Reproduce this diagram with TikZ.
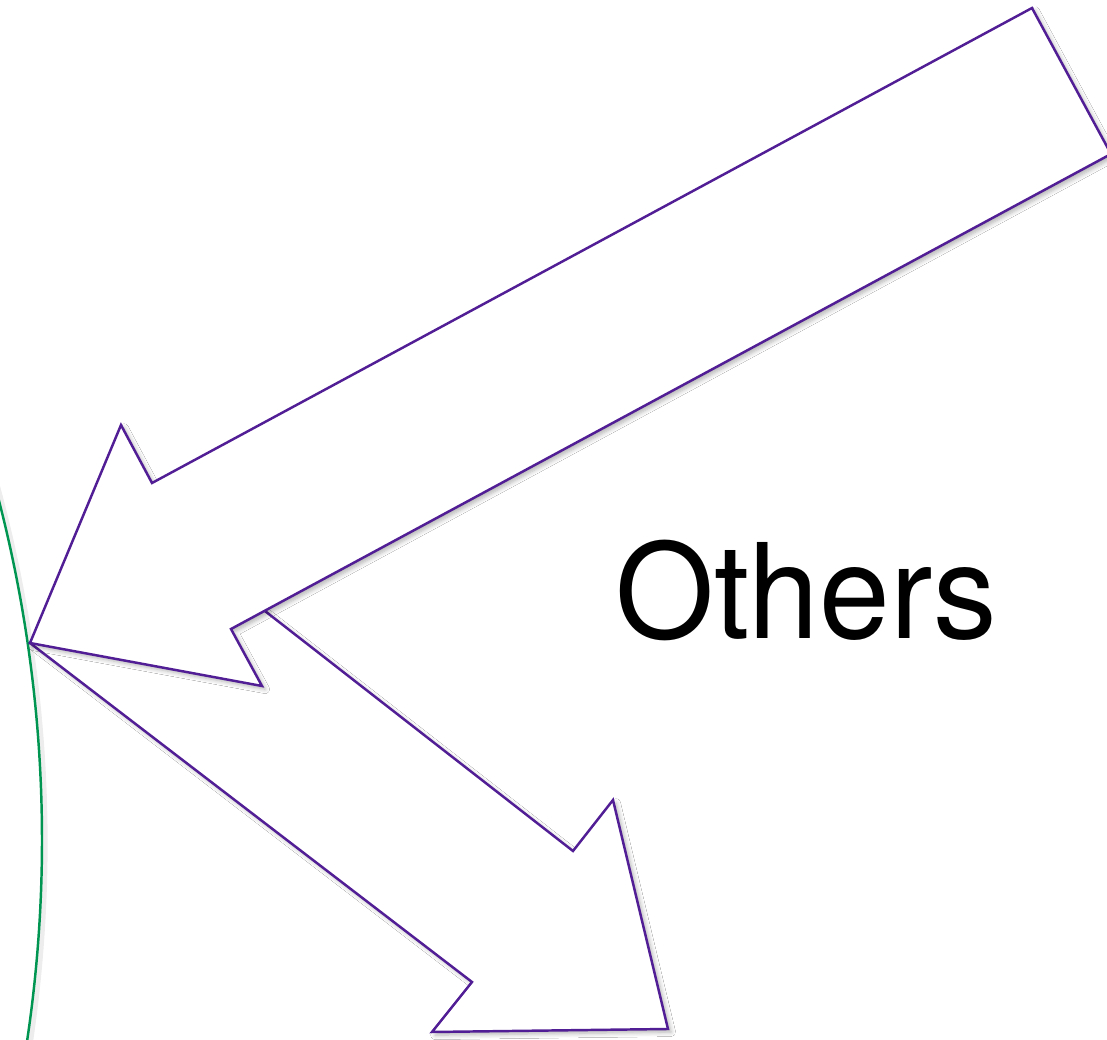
\documentclass[tikz,border=0pt]{standalone}
\usepackage{fontspec}
\setmainfont{TeX Gyre Heros}
\usetikzlibrary{shadows.blur}
\definecolor{arrowpurple}{RGB}{82,30,150}
\definecolor{arcgreen}{RGB}{0,150,82}
\tikzset{
  bigarrow/.style={draw=arrowpurple, line width=1.4pt, fill=white, line join=miter,
    blur shadow={shadow xshift=1.8pt, shadow yshift=-1.8pt, shadow blur radius=2.5pt, shadow blur steps=6, shadow opacity=30}},
  arcline/.style={draw=arcgreen, line width=1.4pt},
  arcshadow/.style={draw=black, line width=3pt, opacity=0.07},
  labeltext/.style={font=\fontsize{75pt}{80pt}\selectfont, text=black, inner sep=0pt}
}
\begin{document}
\begin{tikzpicture}[x=0.02cm, y=-0.02cm]
\useasboundingbox (0,0) rectangle (1107,1040);
\clip (0,0) rectangle (1107,1040);
\fill[white] (0,0) rectangle (1107,1040);
% green arc with soft shadow
\draw[arcshadow] (-1315,843) ++(-16:1360) arc[start angle=-16, end angle=10, radius=1360];
\draw[arcline] (-1318,840) ++(-16:1360) arc[start angle=-16, end angle=10, radius=1360];
% lower arrow (drawn first, lies beneath)
\path[bigarrow] (134,509) -- (573,851) -- (613,800) -- (668,1029) -- (432,1032) -- (472,982) -- (30,643) -- cycle;
% upper arrow
\path[bigarrow] (1032,8) -- (152,483) -- (121,425) -- (30,643) -- (262,686) -- (231,629) -- (1111,154) -- cycle;
% label
\node[labeltext, anchor=base, xscale=0.965] (others) at (806,639) {Others};
\end{tikzpicture}
\end{document}
